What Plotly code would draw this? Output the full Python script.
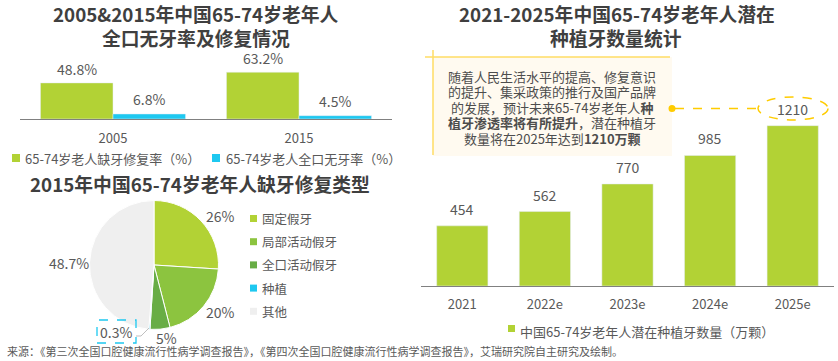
import plotly.graph_objects as go

W, H = 838, 361
def px(x): return x / W
def py(y): return 1 - y / H

FONT = "Noto Sans CJK SC"
TXT = "#595959"
TITLE = "#3f3f3f"
GREEN = "#b2d235"
CYAN = "#1ec8f0"

# ---- data ----
years_a = ["2005", "2015"]
repair_rate = [48.8, 63.2]
edentulous_rate = [6.8, 4.5]
legend_a = ["65-74岁老人缺牙修复率（%）", "65-74岁老人全口无牙率（%）"]

pie_labels = ["固定假牙", "局部活动假牙", "全口活动假牙", "种植", "其他"]
pie_values = [26, 20, 5, 0.3, 48.7]
pie_colors = ["#b2d235", "#8cc43f", "#68ad45", "#1ec8f0", "#efefef"]

years_b = ["2021", "2022e", "2023e", "2024e", "2025e"]
implants = [454, 562, 770, 985, 1210]
legend_b = "中国65-74岁老年人潜在种植牙数量（万颗）"

fig = go.Figure()

# top-left grouped bars
fig.add_trace(go.Bar(x=years_a, y=repair_rate, marker_color=GREEN, width=0.39, offset=-0.39,
                     xaxis="x", yaxis="y", showlegend=False, hoverinfo="skip"))
fig.add_trace(go.Bar(x=years_a, y=edentulous_rate, marker_color=CYAN, width=0.39, offset=0,
                     xaxis="x", yaxis="y", showlegend=False, hoverinfo="skip"))

# right bars
fig.add_trace(go.Bar(x=years_b, y=implants, marker_color=GREEN, width=0.62, offset=-0.31,
                     xaxis="x2", yaxis="y2", showlegend=False, hoverinfo="skip"))

# pie
cx, cy, r = 154, 265, 64.5
fig.add_trace(go.Pie(labels=pie_labels, values=pie_values, sort=False, direction="clockwise",
                     rotation=0, textinfo="none", showlegend=False, hoverinfo="skip",
                     marker=dict(colors=pie_colors, line=dict(color="white", width=1)),
                     domain=dict(x=[px(cx - r), px(cx + r)], y=[py(cy + r), py(cy - r)])))

ann = []
shapes = []

def text(x, y, t, size=13, color=TXT, xanchor="center", yanchor="middle"):
    ann.append(dict(x=px(x), y=py(y), xref="paper", yref="paper", text=t, showarrow=False,
                    font=dict(family=FONT, size=size, color=color),
                    xanchor=xanchor, yanchor=yanchor))

def square(x0, y0, x1, y1, color):
    shapes.append(dict(type="rect", xref="paper", yref="paper", x0=px(x0), x1=px(x1),
                       y0=py(y1), y1=py(y0), fillcolor=color, line=dict(width=0)))

# titles
text(196, 14, "<b>2005&2015年中国65-74岁老年人</b>", 18.8, TITLE)
text(196, 37, "<b>全口无牙率及修复情况</b>", 18.8, TITLE)
text(200, 183, "<b>2015年中国65-74岁老年人缺牙修复类型</b>", 18.8, TITLE)
text(617, 14, "<b>2021-2025年中国65-74岁老年人潜在</b>", 18.8, TITLE)
text(616, 37, "<b>种植牙数量统计</b>", 18.8, TITLE)

# value labels top-left (x given as category index)
for i, v in enumerate(repair_rate):
    ann.append(dict(x=i, y=v, xref="x", yref="y", text=f"{v}%", showarrow=False, xshift=-36,
                    yshift=2, yanchor="bottom", font=dict(family=FONT, size=14, color=TXT)))
for i, v in enumerate(edentulous_rate):
    ann.append(dict(x=i, y=v, xref="x", yref="y", text=f"{v}%", showarrow=False, xshift=36,
                    yshift=3, yanchor="bottom", font=dict(family=FONT, size=14, color=TXT)))

# value labels right
for i, v in enumerate(implants):
    ann.append(dict(x=i, y=v, xref="x2", yref="y2", text=f"{v}", showarrow=False,
                    yshift=5, yanchor="bottom", font=dict(family=FONT, size=14, color=TXT)))

# legends top-left
square(12, 154, 20, 162, GREEN)
text(23, 158, legend_a[0], 13, TXT, xanchor="left")
square(212, 154, 220, 162, CYAN)
text(224, 158, legend_a[1], 13, TXT, xanchor="left")

# legend right
square(508, 325, 515, 332, GREEN)
text(518, 331, legend_b, 13, TXT, xanchor="left")

# pie legend
for i, (lab, col) in enumerate(zip(pie_labels, pie_colors)):
    yc = 218.5 + 23.2 * i
    square(250, yc - 3.5, 257, yc + 3.5, col)
    text(260, yc, lab, 12.5, TXT, xanchor="left")

# pie value labels
pie_pos = [(220, 216), (220, 312), (166, 338), (116, 332), (69, 263)]
for (x, y), v in zip(pie_pos, pie_values):
    text(x, y, f"{v:g}%", 14, TXT)
shapes.append(dict(type="rect", xref="paper", yref="paper", x0=px(97), x1=px(136), y0=py(343), y1=py(320),
                   line=dict(color=CYAN, width=1.3, dash="dash")))
shapes.append(dict(type="path", xref="paper", yref="paper",
                   path=f"M {px(136)} {py(336)} L {px(141)} {py(336)} L {px(149)} {py(328)}",
                   line=dict(color="#bfbfbf", width=1)))

# callout box
shapes.append(dict(type="rect", xref="paper", yref="paper", x0=px(433), x1=px(672), y0=py(156), y1=py(57),
                   fillcolor="#fffaf0", line=dict(width=0), layer="below"))
shapes.append(dict(type="line", xref="paper", yref="paper", x0=px(425), x1=px(670), y0=py(57), y1=py(57),
                   line=dict(color="#ffdc64", width=1.5)))
shapes.append(dict(type="line", xref="paper", yref="paper", x0=px(433), x1=px(433), y0=py(50), y1=py(155),
                   line=dict(color="#ffdc64", width=1.5)))
box_lines = ["随着人民生活水平的提高、修复意识",
             "的提升、集采政策的推行及国产品牌",
             "的发展，预计未来65-74岁老年人<b>种</b>",
             "<b>植牙渗透率将有所提升</b>，潜在种植牙",
             "数量将在2025年达到<b>1210万颗</b>"]
for i, t in enumerate(box_lines):
    text(552, 76 + 15.5 * i, t, 13, "#4d4d4d")

# dashed connector + ellipse
shapes.append(dict(type="line", xref="paper", yref="paper", x0=px(675), x1=px(758), y0=py(108.5), y1=py(108.5),
                   line=dict(color="#ffcc00", width=1.5, dash="dash")))
shapes.append(dict(type="circle", xref="paper", yref="paper", x0=px(668.5), x1=px(675.5), y0=py(112), y1=py(105),
                   fillcolor="#ffcc00", line=dict(width=0)))
shapes.append(dict(type="circle", xref="paper", yref="paper", x0=px(758), x1=px(828), y0=py(120), y1=py(97),
                   line=dict(color="#ffcc00", width=1.5, dash="dash")))

# source
text(5, 351, "来源：《第三次全国口腔健康流行性病学调查报告》，《第四次全国口腔健康流行性病学调查报告》，艾瑞研究院自主研究及绘制。",
     11, TXT, xanchor="left")

axis_common = dict(type="category", showgrid=False, zeroline=False, showline=True, linecolor="#808080",
                   linewidth=1, ticks="", tickfont=dict(family=FONT, size=13, color=TXT), fixedrange=True)

fig.update_layout(
    width=W, height=H, margin=dict(l=0, r=0, t=0, b=0),
    paper_bgcolor="white", plot_bgcolor="rgba(0,0,0,0)",
    barmode="overlay", showlegend=False,
    font=dict(family=FONT, color=TXT),
    xaxis=dict(domain=[px(20), px(392)], range=[-0.5, 1.5], anchor="y", ticklabelstandoff=7, **axis_common),
    yaxis=dict(domain=[py(119), py(119 - 80 * 0.74)], range=[0, 80], visible=False, fixedrange=True),
    xaxis2=dict(domain=[px(421), px(834)], range=[-0.5, 4.5], anchor="y2", ticklabelstandoff=6, **axis_common),
    yaxis2=dict(domain=[py(286), py(286 - 1400 * 0.1325)], range=[0, 1400], visible=False, fixedrange=True),
    annotations=ann, shapes=shapes,
)

fig.write_html("out.html", config={"staticPlot": True},
               post_script="document.body.style.margin='0';document.body.style.overflow='hidden';")
